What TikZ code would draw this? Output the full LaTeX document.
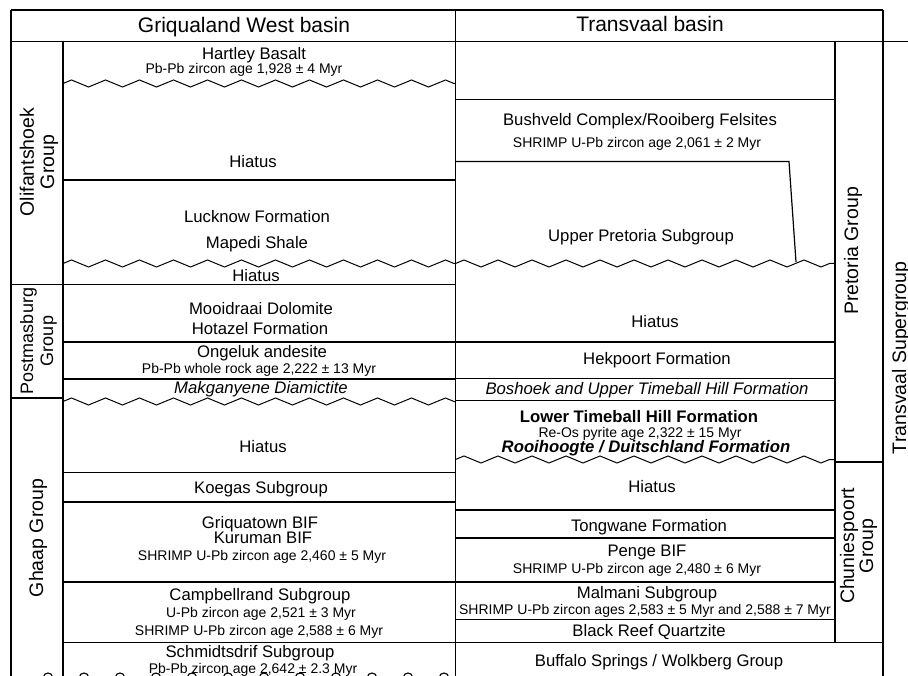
\documentclass[tikz,border=0pt]{standalone}
\usepackage{fontspec}
\setmainfont{Liberation Sans}
\usetikzlibrary{decorations.pathmorphing}

\begin{document}
\begin{tikzpicture}[x=1pt, y=-1pt, line width=1.2pt,
	unitlbl/.style={font=\fontsize{16.7}{18}\selectfont, inner sep=0pt, text height=12pt, text depth=0pt},
	agelbl/.style={font=\fontsize{14}{16}\selectfont, inner sep=0pt, text height=10pt, text depth=0pt},
	headlbl/.style={font=\fontsize{21}{24}\selectfont, inner sep=0pt, text height=15pt, text depth=0pt},
	grplbl/.style={font=\fontsize{19.5}{22}\selectfont, inner sep=0pt, rotate=90, anchor=base},
	unconf/.style={decorate, decoration={zigzag, segment length=34pt, amplitude=3.5pt}, line width=1pt}]
\clip (0,0) rectangle (908,676);
\fill[white] (0,0) rectangle (908,676);

% frame and columns
\draw (11,10) -- (883,10);
\draw (11,41.5) -- (908,41.5);
\draw (11,10) -- (11,676);
\draw (455.5,10) -- (455.5,676);
\draw (883,10) -- (883,676);
\draw (63,41.5) -- (63,676);
\draw (835,41.5) -- (835,642.5);

\node[headlbl] (griqua) at (244,25.5) {Griqualand West basin};
\node[headlbl] (transv) at (650,24.5) {Transvaal basin};

% Griqualand West basin
\foreach \y in {180, 342, 379, 472.5, 502, 582, 642.5}
	\draw (63,\y) -- (455.5,\y);
\draw (11,284.5) -- (455.5,284.5);
\draw (11,398) -- (63,398);
\foreach \y in {83.5, 263.5, 401.5}
	\draw[unconf] (63,\y) -- (455.5,\y);
\foreach \x in {48, 84, ..., 444}
	\draw[line width=1.1pt] (\x-4.5,677) arc (180:360:4.5 and 4);

\node[unitlbl] (hartley) at (254,53.5) {Hartley Basalt};
\node[agelbl] (hartleyage) at (244,68.5) {Pb-Pb zircon age 1,928 ± 4 Myr};
\node[unitlbl] (hiatusA) at (253,161.5) {Hiatus};
\node[unitlbl] (lucknow) at (257,217) {Lucknow Formation};
\node[unitlbl] (mapedi) at (257,243) {Mapedi Shale};
\node[unitlbl] (hiatusB) at (256,275.5) {Hiatus};
\node[unitlbl] (mooidraai) at (261,309) {Mooidraai Dolomite};
\node[unitlbl] (hotazel) at (260,329) {Hotazel Formation};
\node[unitlbl] (ongeluk) at (262,351.5) {Ongeluk andesite};
\node[agelbl] (ongelukage) at (259,368.5) {Pb-Pb whole rock age 2,222 ± 13 Myr};
\node[unitlbl, font=\fontsize{16.7}{18}\selectfont\itshape] (makganyene) at (261,387.5) {Makganyene Diamictite};
\node[unitlbl] (hiatusC) at (263,446) {Hiatus};
\node[unitlbl] (koegas) at (261,487) {Koegas Subgroup};
\node[unitlbl] (griquatown) at (260,522) {Griquatown BIF};
\node[unitlbl] (kuruman) at (263,537.5) {Kuruman BIF};
\node[agelbl] (kurumanage) at (262,555) {SHRIMP U-Pb zircon age 2,460 ± 5 Myr};
\node[unitlbl] (campbell) at (260,594) {Campbellrand Subgroup};
\node[agelbl] (campbellageA) at (261,612.5) {U-Pb zircon age 2,521 ± 3 Myr};
\node[agelbl] (campbellageB) at (259,630) {SHRIMP U-Pb zircon age 2,588 ± 6 Myr};
\node[unitlbl] (schmidts) at (250,651.5) {Schmidtsdrif Subgroup};
\node[agelbl] (schmidtsage) at (253,668) {Pb-Pb zircon age 2,642 ± 2.3 Myr};

\node[grplbl] (olif1) at (34,162) {Olifantshoek};
\node[grplbl] (olif2) at (54,162) {Group};
\node[grplbl, font=\fontsize{18}{20}\selectfont] (postm1) at (33,341) {Postmasburg};
\node[grplbl, font=\fontsize{18}{20}\selectfont] (postm2) at (53,341) {Group};
\node[grplbl] (ghaap) at (43,538) {Ghaap Group};

% Transvaal basin
\foreach \y in {99.5, 342, 378.5, 400.5, 510, 538, 582, 619.5}
	\draw (455.5,\y) -- (835,\y);
\draw (455.5,642.5) -- (883,642.5);
\draw (835,462) -- (883,462);
\draw (455.5,161.5) -- (789,161.5) -- (796,262);
\foreach \y in {263.5, 459.5}
	\draw[unconf] (455.5,\y) -- (835,\y);

\node[unitlbl] (bushveld) at (640,120) {Bushveld Complex/Rooiberg Felsites};
\node[agelbl] (bushveldage) at (637,142.5) {SHRIMP U-Pb zircon age 2,061 ± 2 Myr};
\node[unitlbl] (upperpret) at (641,236) {Upper Pretoria Subgroup};
\node[unitlbl] (hiatusD) at (655,321.5) {Hiatus};
\node[unitlbl] (hekpoort) at (657,359) {Hekpoort Formation};
\node[unitlbl, font=\fontsize{16.7}{18}\selectfont\itshape] (boshoek) at (647,388.5) {Boshoek and Upper Timeball Hill Formation};
\node[unitlbl, font=\fontsize{16.7}{18}\selectfont\bfseries] (lowertime) at (639,416) {Lower Timeball Hill Formation};
\node[agelbl] (lowertimeage) at (640,432) {Re-Os pyrite age 2,322 ± 15 Myr};
\node[unitlbl, font=\fontsize{16.7}{18}\selectfont\bfseries\itshape] (rooihoogte) at (646,446.5) {Rooihoogte / Duitschland Formation};
\node[unitlbl] (hiatusE) at (652,486) {Hiatus};
\node[unitlbl] (tongwane) at (649,525) {Tongwane Formation};
\node[unitlbl] (penge) at (647,550) {Penge BIF};
\node[agelbl] (pengeage) at (637,568) {SHRIMP U-Pb zircon age 2,480 ± 6 Myr};
\node[unitlbl] (malmani) at (647,592.5) {Malmani Subgroup};
\node[agelbl] (malmaniage) at (645,609) {SHRIMP U-Pb zircon ages 2,583 ± 5 Myr and 2,588 ± 7 Myr};
\node[unitlbl] (blackreef) at (649,630) {Black Reef Quartzite};
\node[unitlbl] (buffalo) at (659,660) {Buffalo Springs / Wolkberg Group};

\node[grplbl] (pretoria) at (858,251) {Pretoria Group};
\node[grplbl] (chunie1) at (854,546) {Chuniespoort};
\node[grplbl] (chunie2) at (873,546) {Group};
\node[grplbl] (transsup) at (906,358) {Transvaal Supergroup};
\end{tikzpicture}
\end{document}
